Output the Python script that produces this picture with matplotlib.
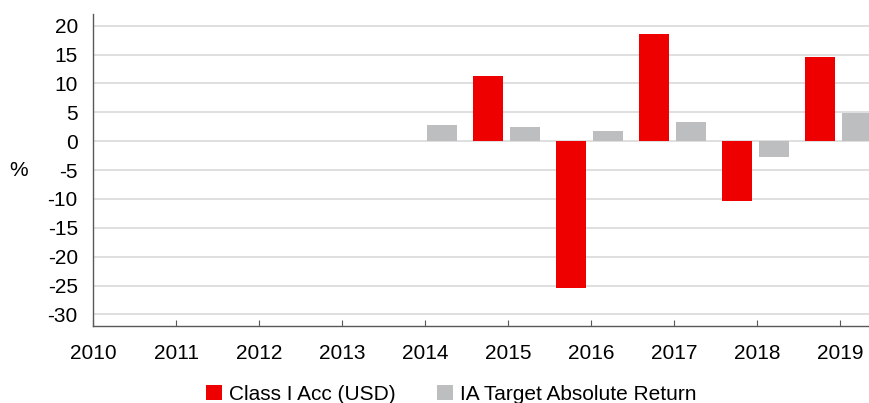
import numpy as np
from matplotlib import pyplot as plt

plt.rcParams['font.family'] = ['Liberation Sans', 'DejaVu Sans']
plt.rcParams['axes.unicode_minus'] = False

years = ['2010', '2011', '2012', '2013', '2014', '2015', '2016', '2017', '2018', '2019']

fund_years = [2015, 2016, 2017, 2018, 2019]
fund_returns = [11.3, -25.5, 18.6, -10.3, 14.6]

sector_years = [2014, 2015, 2016, 2017, 2018, 2019]
sector_returns = [2.8, 2.5, 1.8, 3.4, -2.8, 4.8]

red = '#EE0000'
grey = '#BDBEC0'

fig = plt.figure(figsize=(8.70, 4.03), dpi=100)
ax = fig.add_axes([0.107, 0.191, 0.893, 0.774])

fund_x = np.array(fund_years) - 2010 - 0.24
sector_x = np.array(sector_years) - 2010 + 0.205
ax.bar(fund_x, fund_returns, width=0.36, color=red, label='Class I Acc (USD)', zorder=3)
ax.bar(sector_x, sector_returns, width=0.36, color=grey,
       label='IA Target Absolute Return', zorder=3)

ax.set_xlim(0, 9.36)
ax.set_ylim(-32, 22)
ax.set_yticks(range(-30, 21, 5))
ax.set_xticks(range(len(years)))
ax.set_xticklabels(years)
ax.grid(axis='y', color='#D9D9D9', linewidth=1.2, zorder=0)

for side in ['top', 'right']:
    ax.spines[side].set_visible(False)
for side in ['left', 'bottom']:
    ax.spines[side].set_color('#595959')
    ax.spines[side].set_linewidth(1)

ax.tick_params(axis='y', length=0, labelsize=15, pad=11)
ax.tick_params(axis='x', direction='in', length=4, color='#595959',
               labelsize=15, pad=13)

fig.text(0.021, 0.578, '%', fontsize=15, va='center', ha='center')

fig.legend(loc='lower center', bbox_to_anchor=(0.519, -0.048), ncol=2,
           frameon=False, fontsize=15, handlelength=0.75, handleheight=0.75,
           handletextpad=0.35, columnspacing=2.0)

fig.savefig('out.png')
